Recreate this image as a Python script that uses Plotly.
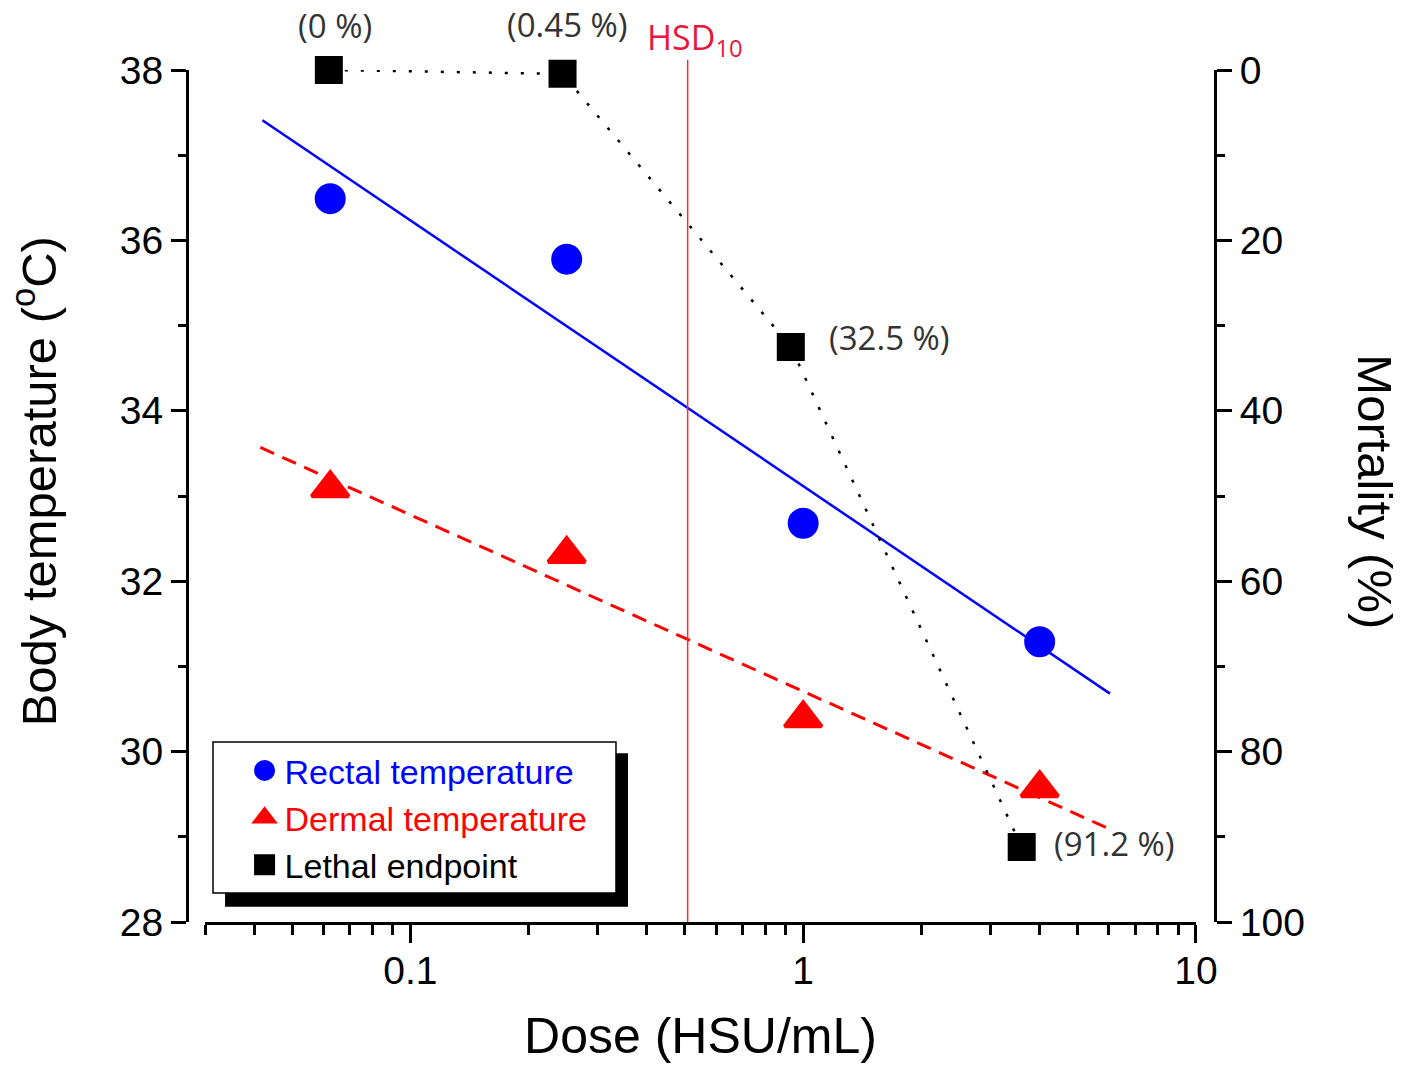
import math
import plotly.graph_objects as go

# ---- data ----
dose = [0.0625, 0.25, 1.0, 4.0]
rectal_temp = [36.49, 35.78, 32.68, 31.29]
dermal_temp = [33.09, 32.32, 30.39, 29.57]

lethal_dose = [0.062, 0.244, 0.93, 3.6]
mortality = [0.0, 0.45, 32.5, 91.2]
mortality_labels = ["(0 %)", "(0.45 %)", "(32.5 %)", "(91.2 %)"]

rectal_fit_x = [0.042, 6.04]
rectal_fit_y = [37.41, 30.68]
dermal_fit_x = [0.0415, 6.1]
dermal_fit_y = [33.57, 29.08]

hsd10 = 0.508

x_tickvals = [0.1, 1, 10]
x_ticktext = ["0.1", "1", "10"]
x_minor = [0.03, 0.04, 0.05, 0.06, 0.07, 0.08, 0.09,
           0.2, 0.3, 0.4, 0.5, 0.6, 0.7, 0.8, 0.9,
           2, 3, 4, 5, 6, 7, 8, 9]
y_tickvals = [28, 30, 32, 34, 36, 38]
y2_tickvals = [0, 20, 40, 60, 80, 100]

BLUE = "#0000ff"
RED = "#ff0000"
FONT = "Liberation Sans, Arial, sans-serif"
LABEL_FONT = "Open Sans, Noto Sans, sans-serif"

fig = go.Figure()

# fit lines
fig.add_trace(go.Scatter(x=rectal_fit_x, y=rectal_fit_y, mode="lines",
                         line=dict(color=BLUE, width=2.5), showlegend=False,
                         hoverinfo="skip"))
fig.add_trace(go.Scatter(x=dermal_fit_x, y=dermal_fit_y, mode="lines",
                         line=dict(color=RED, width=3, dash="15px,9px"),
                         showlegend=False, hoverinfo="skip"))
# lethal dotted connector
fig.add_trace(go.Scatter(x=lethal_dose, y=mortality, mode="lines", yaxis="y2",
                         line=dict(color="black", width=2.5, dash="3px,13px"),
                         showlegend=False, hoverinfo="skip", cliponaxis=False))

# markers (a same-coloured outline makes the legend symbols larger too)
fig.add_trace(go.Scatter(x=dose, y=rectal_temp, mode="markers",
                         name="<span style='color:#0000ff'>Rectal temperature</span>",
                         legendgroup="a", cliponaxis=False,
                         marker=dict(symbol="circle", size=26, color=BLUE,
                                     line=dict(color=BLUE, width=5))))
fig.add_trace(go.Scatter(x=dose, y=dermal_temp, mode="markers",
                         name="<span style='color:#ff0000'>Dermal temperature</span>",
                         legendgroup="b", cliponaxis=False,
                         marker=dict(symbol="triangle-up", size=32, color=RED,
                                     line=dict(color=RED, width=4))))
fig.add_trace(go.Scatter(x=lethal_dose, y=mortality, mode="markers", yaxis="y2",
                         name="Lethal endpoint", legendgroup="c", cliponaxis=False,
                         marker=dict(symbol="square", size=23, color="black",
                                     line=dict(color="black", width=5))))

# percentage labels (annotation x on a log axis is given in log10 units)
label_pos = [  # (xanchor, xshift, yshift)
    ("center", 6, 45),
    ("center", 5, 49),
    ("left", 36, 9),
    ("left", 30, 4),
]
for xv, yv, txt, (xa, xs, ys) in zip(lethal_dose, mortality, mortality_labels, label_pos):
    fig.add_annotation(x=math.log10(xv), y=yv, xref="x", yref="y2", text=txt, showarrow=False,
                       xanchor=xa, yanchor="middle", xshift=xs, yshift=ys,
                       font=dict(family=LABEL_FONT, size=33, color="#333333"))

# HSD10 marker line and label
fig.add_shape(type="line", xref="x", yref="paper", x0=hsd10, x1=hsd10, y0=0, y1=1.012,
              line=dict(color="#ff2a2a", width=1.5))
fig.add_annotation(x=math.log10(hsd10), y=1.012, xref="x", yref="paper", text="HSD<sub>10</sub>",
                   showarrow=False, xanchor="left", yanchor="bottom", xshift=-43, yshift=-6,
                   font=dict(family=LABEL_FONT, size=34, color="#e8173c"))

# legend box with shadow
fig.add_shape(type="rect", xref="paper", yref="paper", x0=0.037, x1=0.429, y0=0.018, y1=0.198,
              fillcolor="black", line=dict(width=0), layer="below")
fig.add_shape(type="rect", xref="paper", yref="paper", x0=0.0253, x1=0.4173, y0=0.034, y1=0.2113,
              fillcolor="white", line=dict(color="black", width=1.5), layer="below")

# axis titles placed as rotated annotations
fig.add_annotation(x=-0.148, y=0.517, xref="paper", yref="paper",
                   text="Body temperature (<sup>o</sup>C)",
                   textangle=-90, showarrow=False, xanchor="center", yanchor="middle",
                   font=dict(family=FONT, size=49, color="black"))
fig.add_annotation(x=1.156, y=0.505, xref="paper", yref="paper", text="Mortality (%)",
                   textangle=90, showarrow=False, xanchor="center", yanchor="middle",
                   font=dict(family=FONT, size=49, color="black"))

# the page adds an 8 px body margin; the figure is sized to fit the window
fig.update_layout(
    width=1394, height=1058,
    margin=dict(l=179, r=187, t=62, b=144, autoexpand=False),
    template="none",
    paper_bgcolor="white", plot_bgcolor="white",
    font=dict(family=FONT, color="black"),
    showlegend=True,
    legend=dict(x=0.056, y=0.2115, xanchor="left", yanchor="top",
                bgcolor="rgba(0,0,0,0)", borderwidth=0,
                font=dict(family=FONT, size=34, color="black"),
                tracegroupgap=0, itemsizing="trace"),
    xaxis=dict(type="log", domain=[0.0175, 0.9815], range=[-1.5229, 1.0],
               anchor="y", showline=True, linewidth=3, linecolor="black",
               showgrid=False, zeroline=False, mirror=False,
               tickmode="array", tickvals=x_tickvals, ticktext=x_ticktext,
               ticks="outside", ticklen=18, tickwidth=3, tickcolor="black",
               ticklabelstandoff=-6,
               tickfont=dict(family=FONT, size=39, color="black"),
               minor=dict(tickmode="array", tickvals=x_minor, ticks="outside",
                          ticklen=10, tickwidth=3, tickcolor="black", showgrid=False),
               title=dict(text="Dose (HSU/mL)", standoff=28,
                          font=dict(family=FONT, size=50, color="black"))),
    yaxis=dict(range=[28, 38], anchor="free", position=0, domain=[0, 1],
               showline=True, linewidth=3, linecolor="black",
               showgrid=False, zeroline=False,
               tickmode="array", tickvals=y_tickvals,
               ticks="outside", ticklen=15, tickwidth=3, tickcolor="black",
               tickfont=dict(family=FONT, size=39, color="black"),
               minor=dict(dtick=1, tick0=28, ticks="outside", ticklen=8, tickwidth=3,
                          tickcolor="black", showgrid=False)),
    yaxis2=dict(range=[100, 0], anchor="free", position=1, overlaying="y", side="right",
                showline=True, linewidth=3, linecolor="black",
                showgrid=False, zeroline=False,
                tickmode="array", tickvals=y2_tickvals,
                ticks="outside", ticklen=15, tickwidth=3, tickcolor="black",
                tickfont=dict(family=FONT, size=39, color="black"),
                minor=dict(dtick=10, tick0=0, ticks="outside", ticklen=8, tickwidth=3,
                           tickcolor="black", showgrid=False)),
)

fig.write_html("out.html")
